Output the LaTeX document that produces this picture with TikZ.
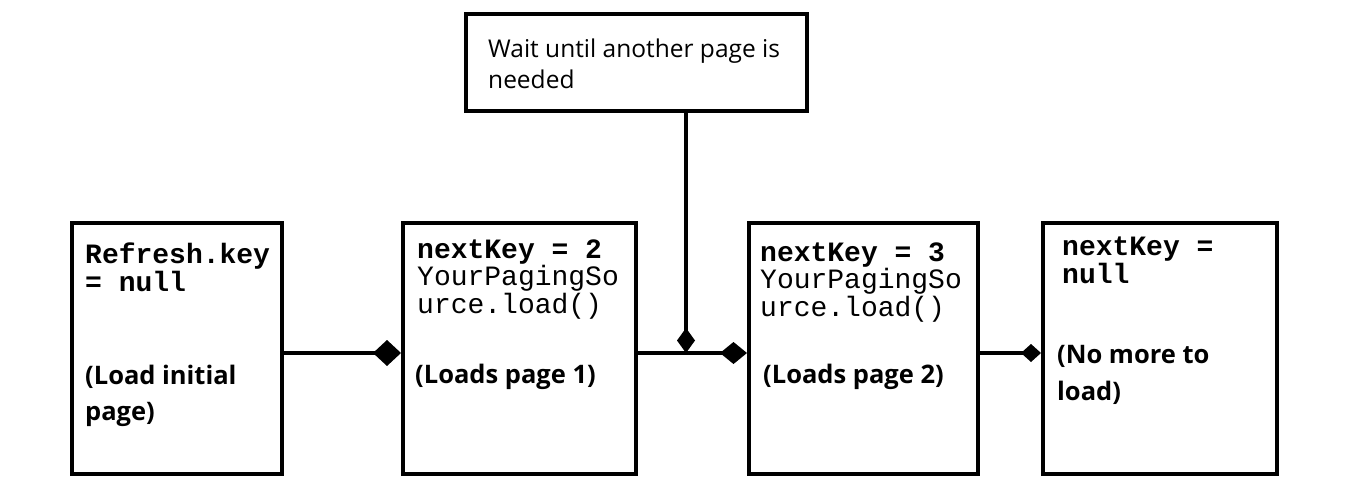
\documentclass[tikz,border=0pt]{standalone}
\usepackage{fontspec}
\setmainfont{Open Sans}
\newfontfamily\codefont{Liberation Mono}
\usetikzlibrary{arrows.meta}
\tikzset{
  box/.style={draw, line width=4pt, inner sep=0pt, fill=white},
  link/.style={line width=4.5pt},
  codetxt/.style={inner sep=0pt, anchor=base west, align=left, font=\codefont\fontsize{28}{25}\selectfont},
  boldtxt/.style={inner sep=0pt, anchor=base west, align=left, font=\bfseries\fontsize{25.5}{36}\selectfont},
  plaintxt/.style={inner sep=0pt, anchor=base west, align=left, font=\fontsize{24.5}{31}\selectfont},
}
\begin{document}
\begin{tikzpicture}[x=1pt,y=-1pt]
\useasboundingbox (0,0) rectangle (1356,487);
% boxes
\node[box, minimum width=210pt, minimum height=251pt] (b1) at (177,348.5) {};
\node[box, minimum width=233pt, minimum height=251pt] (b2) at (519.5,348.5) {};
\node[box, minimum width=229pt, minimum height=251pt] (b3) at (863.5,348.5) {};
\node[box, minimum width=234pt, minimum height=251pt] (b4) at (1160,348.5) {};
\node[box, minimum width=341pt, minimum height=97pt] (top) at (636.5,62.5) {};
% texts (anchor = baseline of the last line)
\node[plaintxt] (ttop) at (488,88) {Wait until another page is\\needed};
\node[codetxt] (c1) at (85,291) {\bfseries Refresh.key\\\bfseries = null};
\node[codetxt] (c2) at (417,313) {\bfseries nextKey = 2\\YourPagingSo\\urce.load()};
\node[codetxt] (c3) at (760,316) {\bfseries nextKey = 3\\YourPagingSo\\urce.load()};
\node[codetxt] (c4) at (1062,283) {\bfseries nextKey =\\\bfseries null};
\node[boldtxt] (l1) at (85,420) {(Load initial\\page)};
\node[boldtxt] (l2) at (415,383) {(Loads page 1)};
\node[boldtxt] (l3) at (763,383) {(Loads page 2)};
\node[boldtxt, font=\bfseries\fontsize{25.5}{37}\selectfont] (l4) at (1057,400) {(No more to\\load)};
% connectors
\coordinate (j) at (686,353);
\draw[link, -{Diamond[length=28pt,width=26pt]}] (b1.east |- j) -- (b2.west |- j);
\draw[link, -{Diamond[length=27pt,width=22pt]}] (b2.east |- j) -- (b3.west |- j);
\draw[link, -{Diamond[length=25pt,width=18pt]}] (top.south -| j) -- (j);
\draw[link, -{Diamond[length=20pt,width=18pt]}] (b3.east |- j) -- (b4.west |- j);
\end{tikzpicture}
\end{document}
